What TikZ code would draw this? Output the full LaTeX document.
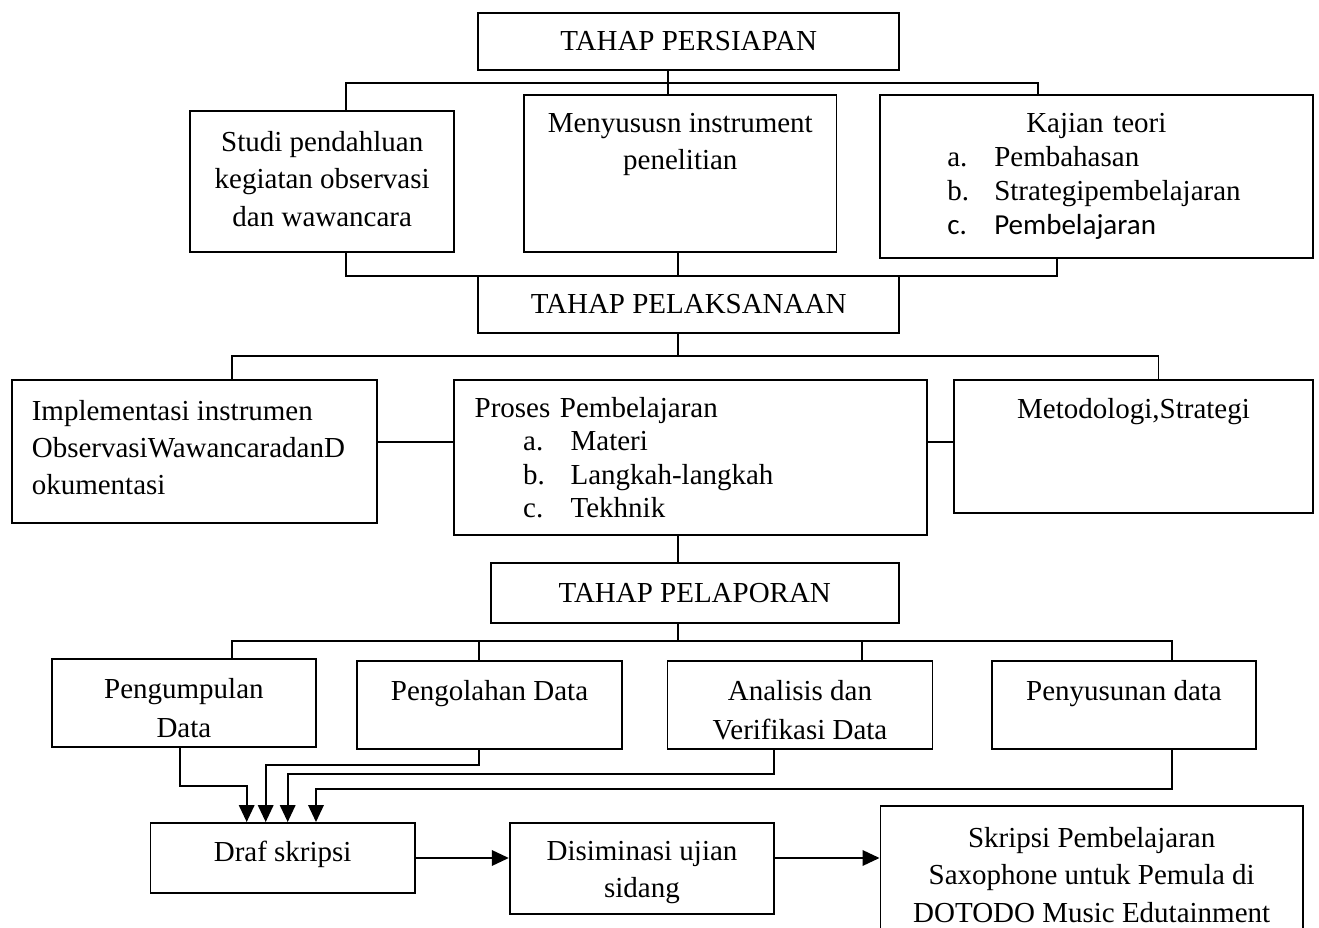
\documentclass[tikz,border=0pt]{standalone}
\usepackage{fontspec}
\setmainfont{Liberation Serif}
\newfontfamily\calibrifont{Carlito}
\usetikzlibrary{arrows.meta}

\begin{document}
\begin{tikzpicture}[x=0.02cm,y=-0.02cm,line width=1.1pt]

%
% Styles
%
\tikzstyle{box} = [rectangle,draw,line width=1.1pt,inner sep=0pt,align=center,font=\fontsize{16.5}{21.5}\selectfont]
\tikzstyle{txt} = [inner sep=0pt,align=center,anchor=north,font=\fontsize{16.5}{21.5}\selectfont]
\tikzstyle{arr} = [-{Triangle[length=0.34cm,width=0.31cm]}]

\useasboundingbox (0,0) rectangle (1319,928);
\clip (0,0) rectangle (1319,928);

%
% Tahap persiapan
%
\node[box,minimum width=8.41cm,minimum height=1.14cm] (persiapan) at (688.65,41.5) {TAHAP PERSIAPAN};
\node[box,minimum width=5.29cm,minimum height=2.82cm] (studi) at (322.2,181.5) {};
\node[txt] (studitxt) at ([yshift=-0.4cm]studi.north) {Studi pendahluan\\kegiatan observasi\\dan wawancara};
\node[box,minimum width=6.25cm,minimum height=3.14cm] (susun) at (680.3,173.5) {};
\node[txt] (susuntxt) at ([yshift=-0.36cm]susun.north) {Menyususn instrument\\penelitian};
\node[box,minimum width=8.66cm,minimum height=3.26cm,text width=8.66cm,align=left,
      font=\fontsize{16.5}{19.5}\selectfont] (kajian) at (1096.3,176.5)
  {\makebox[8.66cm]{Kajian teori}\\
   \hspace*{1.35cm}\makebox[0.94cm][l]{a.}Pembahasan\\
   \hspace*{1.35cm}\makebox[0.94cm][l]{b.}Strategipembelajaran\\
   {\calibrifont\hspace*{1.35cm}\makebox[0.94cm][l]{c.}Pembelajaran}};

%
% Tahap pelaksanaan
%
\node[box,minimum width=8.41cm,minimum height=1.14cm] (pelaksanaan) at (688.65,304.5) {TAHAP PELAKSANAAN};
\node[box,minimum width=7.3cm,minimum height=2.86cm] (impl) at (194.3,451.5) {};
\node[txt,anchor=north west,align=left,font=\fontsize{16.5}{21.3}\selectfont] (impltxt)
  at ([xshift=0.4cm,yshift=-0.4cm]impl.north west)
  {Implementasi instrumen\\ObservasiWawancaradanD\\okumentasi};
\node[box,minimum width=9.46cm,minimum height=3.1cm,inner xsep=0.42cm,text width=8.62cm,align=left,
      font=\fontsize{16.5}{19}\selectfont] (proses) at (690.1,457.5)
  {Proses Pembelajaran\\
   \hspace*{0.97cm}\makebox[0.95cm][l]{a.}Materi\\
   \hspace*{0.97cm}\makebox[0.95cm][l]{b.}Langkah-langkah\\
   \hspace*{0.97cm}\makebox[0.95cm][l]{c.}Tekhnik};
\node[box,minimum width=7.17cm,minimum height=2.66cm] (metode) at (1133.5,446.5) {};
\node[txt] (metodetxt) at ([yshift=-0.36cm]metode.north) {Metodologi,Strategi};

%
% Tahap pelaporan
%
\node[box,minimum width=8.16cm,minimum height=1.2cm] (pelaporan) at (694.8,593) {TAHAP PELAPORAN};
\node[box,minimum width=5.28cm,minimum height=1.76cm] (kumpul) at (183.9,703) {};
\node[txt,font=\fontsize{16.5}{22.5}\selectfont] (kumpultxt) at ([yshift=-0.38cm]kumpul.north) {Pengumpulan\\Data};
\node[box,minimum width=5.29cm,minimum height=1.76cm] (olah) at (489.5,705) {};
\node[txt] (olahtxt) at ([yshift=-0.38cm]olah.north) {Pengolahan Data};
\node[box,minimum width=5.3cm,minimum height=1.76cm] (analisis) at (800,705) {};
\node[txt,font=\fontsize{16.5}{22.5}\selectfont] (analisistxt) at ([yshift=-0.38cm]analisis.north) {Analisis dan\\Verifikasi Data};
\node[box,minimum width=5.28cm,minimum height=1.76cm] (susundata) at (1124,705) {};
\node[txt] (susundatatxt) at ([yshift=-0.38cm]susundata.north) {Penyusunan data};

\node[box,minimum width=5.29cm,minimum height=1.4cm] (draf) at (282.7,858) {};
\node[txt] (draftxt) at ([yshift=-0.36cm]draf.north) {Draf skripsi};
\node[box,minimum width=5.29cm,minimum height=1.82cm] (disem) at (642,868.5) {};
\node[txt] (disemtxt) at ([yshift=-0.36cm]disem.north) {Disiminasi ujian\\sidang};
\node[box,minimum width=8.45cm,minimum height=2.76cm] (skripsi) at (1091.7,875)
  {Skripsi Pembelajaran\\Saxophone untuk Pemula di\\DOTODO Music Edutainment};

%
% Connectors
%
\coordinate (t1) at (346,83);
\coordinate (t2) at (667.6,83);
\coordinate (t3) at (1038,83);
\draw (studi.north -| t1) -- (t1) -- (t3) -- (kajian.north -| t3);
\draw (persiapan.south -| t2) -- (susun.north -| t2);

\coordinate (u1) at (346,276);
\coordinate (u2) at (678,276);
\coordinate (u3) at (1057,276);
\draw (studi.south -| u1) -- (u1) -- (u3) -- (kajian.south -| u3);
\draw (susun.south -| u2) -- (u2);

\coordinate (v1) at (231.9,356);
\coordinate (v2) at (677.7,356);
\coordinate (v3) at (1158.5,356);
\coordinate (v4) at (0,442);
\draw (impl.north -| v1) -- (v1) -- (v3) -- (metode.north -| v3);
\draw (pelaksanaan.south -| v2) -- (v2);
\draw (impl.east |- v4) -- (proses.west |- v4);
\draw (proses.east |- v4) -- (metode.west |- v4);
\draw (proses.south -| v2) -- (pelaporan.north -| v2);

\coordinate (w1) at (231.9,641);
\coordinate (w2) at (479,641);
\coordinate (w3) at (677.7,641);
\coordinate (w4) at (862.2,641);
\coordinate (w5) at (1172.4,641);
\draw (kumpul.north -| w1) -- (w1) -- (w5) -- (susundata.north -| w5);
\draw (pelaporan.south -| w3) -- (w3);
\draw (w2) -- (olah.north -| w2);
\draw (w4) -- (analisis.north -| w4);

\coordinate (k1) at (180.1,786);
\coordinate (k2) at (479,765);
\coordinate (k3) at (774.3,774);
\coordinate (k4) at (1172.4,789);
\coordinate (m1) at (246.7,823);
\coordinate (m2) at (265.7,823);
\coordinate (m3) at (287.7,823);
\coordinate (m4) at (316,823);
\draw[arr] (kumpul.south -| k1) -- (k1) -| (draf.north -| m1);
\draw[arr] (olah.south -| k2) -- (k2) -| (draf.north -| m2);
\draw[arr] (analisis.south -| k3) -- (k3) -| (draf.north -| m3);
\draw[arr] (susundata.south -| k4) -- (k4) -| (draf.north -| m4);

\draw[arr] (draf.east) -- (draf.east -| disem.west);
\draw[arr] (disem.east |- draf.east) -- (skripsi.west |- draf.east);

\end{tikzpicture}
\end{document}
